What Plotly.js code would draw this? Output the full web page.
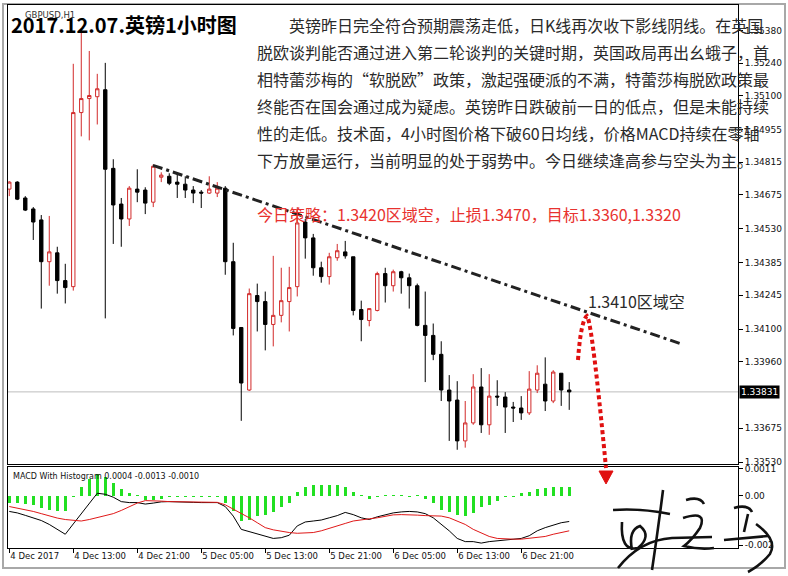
<!DOCTYPE html>
<html><head><meta charset="utf-8">
<script src="https://cdn.plot.ly/plotly-3.0.1.min.js"></script>
<style>html,body{margin:0;padding:0;background:#fff;}#chart{width:788px;height:576px;}</style>
</head><body><div id="chart"></div>
<script>
// ---- hourly bars (GBPUSD H1), first bar 4 Dec 05:00 ----
const startHour = Date.UTC(2017, 11, 4, 5);
const barCount = 71;
const times = [];
for (let i = 0; i < barCount; i++) {
  const d = new Date(startHour + i * 3600000);
  times.push(d.toISOString().slice(0, 16).replace('T', ' '));
}

const openP = [1.34700,1.34730,1.34662,1.34615,1.34568,1.34389,1.34427,1.34308,1.34282,1.35028,
1.35088,1.35096,1.35126,1.34789,1.34636,1.34572,1.34700,1.34696,1.34644,1.34751,
1.34755,1.34730,1.34721,1.34696,1.34687,1.34683,1.34683,1.34704,1.34389,1.34107,
1.33839,1.34244,1.34218,1.34120,1.34159,1.34218,1.34282,1.34559,1.34491,1.34363,
1.34325,1.34406,1.34431,1.34410,1.34184,1.34137,1.34180,1.34338,1.34286,1.34346,
1.34320,1.34286,1.34116,1.34073,1.33992,1.33839,1.33796,1.33621,1.33698,1.33852,
1.33690,1.33813,1.33809,1.33766,1.33762,1.33741,1.33839,1.33864,1.33792,1.33911,1.33839];
const highP = [1.34734,1.34734,1.34670,1.34623,1.34589,1.34585,1.34453,1.34380,1.35237,1.35382,
1.35292,1.35194,1.35241,1.34828,1.34662,1.34713,1.34785,1.34708,1.34806,1.34772,
1.34768,1.34764,1.34755,1.34713,1.34696,1.34755,1.34730,1.34713,1.34470,1.34107,
1.34274,1.34295,1.34261,1.34414,1.34363,1.34367,1.34623,1.34572,1.34508,1.34389,
1.34427,1.34465,1.34478,1.34410,1.34222,1.34188,1.34346,1.34363,1.34355,1.34350,
1.34338,1.34295,1.34261,1.34124,1.34048,1.33903,1.33877,1.33792,1.33907,1.33933,
1.33907,1.33881,1.33830,1.33788,1.33813,1.33920,1.33945,1.33979,1.33924,1.33911,1.33873];
const lowP = [1.34670,1.34653,1.34606,1.34482,1.34188,1.34286,1.34252,1.34210,1.34265,1.34926,
1.34909,1.34977,1.34146,1.34465,1.34453,1.34542,1.34644,1.34593,1.34623,1.34730,
1.34717,1.34662,1.34662,1.34640,1.34619,1.34679,1.34666,1.34333,1.34073,1.33707,
1.33835,1.34090,1.34009,1.34026,1.34129,1.34090,1.34240,1.34402,1.34329,1.34299,
1.34291,1.34393,1.34402,1.34159,1.34048,1.34112,1.34176,1.34214,1.34261,1.34252,
1.34188,1.34112,1.33873,1.33967,1.33792,1.33621,1.33583,1.33592,1.33690,1.33655,
1.33647,1.33771,1.33655,1.33702,1.33711,1.33732,1.33826,1.33749,1.33783,1.33771,1.33754];
const closeP = [1.34730,1.34657,1.34610,1.34559,1.34389,1.34431,1.34308,1.34278,1.35028,1.35088,
1.35101,1.35130,1.34785,1.34632,1.34572,1.34704,1.34687,1.34640,1.34798,1.34760,
1.34725,1.34721,1.34696,1.34683,1.34683,1.34700,1.34704,1.34389,1.34103,1.33869,
1.34252,1.34218,1.34120,1.34159,1.34222,1.34278,1.34555,1.34491,1.34363,1.34325,
1.34410,1.34436,1.34414,1.34180,1.34141,1.34188,1.34338,1.34286,1.34346,1.34320,
1.34286,1.34116,1.34073,1.33992,1.33839,1.33792,1.33621,1.33698,1.33852,1.33690,
1.33813,1.33809,1.33766,1.33762,1.33741,1.33843,1.33911,1.33792,1.33916,1.33839,1.33831];

// ---- MACD panel ----
const macdHist = [-0.00027,-0.00029,-0.00032,-0.00036,-0.00049,-0.00056,-0.00063,-0.00063,-0.00003,0.00037,
0.00070,0.00090,0.00077,0.00051,0.00027,0.00011,0.00003,-0.00016,-0.00016,-0.00013,
-0.00004,-0.00004,-0.00004,-0.00004,-0.00004,-0.00004,-0.00004,-0.00027,-0.00063,-0.00103,
-0.00096,-0.00083,-0.00076,-0.00067,-0.00045,-0.00027,0.00017,0.00037,0.00044,0.00044,
0.00044,0.00044,0.00037,0.00017,0.00004,-0.00013,-0.00004,0.00004,0.00004,0.00004,
-0.00004,0.00004,-0.00013,-0.00027,-0.00056,-0.00067,-0.00076,-0.00082,-0.00069,-0.00043,
-0.00036,-0.00019,-0.00004,-0.00004,0.00011,0.00017,0.00027,0.00031,0.00037,0.00037,0.00037];
const macdMain = [-0.00063,-0.00069,-0.00079,-0.00089,-0.00100,-0.00116,-0.00136,-0.00156,-0.00114,-0.00073,
-0.00032,0.00011,0.00007,-0.00005,-0.00023,-0.00027,-0.00027,-0.00033,-0.00029,-0.00024,
-0.00023,-0.00023,-0.00025,-0.00026,-0.00027,-0.00027,-0.00027,-0.00043,-0.00082,-0.00136,
-0.00146,-0.00156,-0.00165,-0.00173,-0.00170,-0.00160,-0.00122,-0.00106,-0.00102,-0.00098,
-0.00089,-0.00080,-0.00067,-0.00076,-0.00089,-0.00096,-0.00085,-0.00077,-0.00069,-0.00065,
-0.00063,-0.00065,-0.00072,-0.00089,-0.00116,-0.00142,-0.00173,-0.00186,-0.00186,-0.00192,
-0.00186,-0.00182,-0.00180,-0.00176,-0.00173,-0.00162,-0.00142,-0.00129,-0.00120,-0.00109,-0.00104];
const macdSignal = [-0.00043,-0.00049,-0.00056,-0.00063,-0.00072,-0.00082,-0.00090,-0.00096,-0.00100,-0.00102,
-0.00096,-0.00089,-0.00080,-0.00072,-0.00059,-0.00043,-0.00029,-0.00019,-0.00019,-0.00021,
-0.00023,-0.00024,-0.00024,-0.00024,-0.00026,-0.00026,-0.00026,-0.00036,-0.00053,-0.00069,
-0.00089,-0.00109,-0.00129,-0.00138,-0.00144,-0.00149,-0.00152,-0.00152,-0.00149,-0.00142,
-0.00133,-0.00122,-0.00112,-0.00102,-0.00096,-0.00093,-0.00089,-0.00082,-0.00077,-0.00076,
-0.00076,-0.00078,-0.00080,-0.00080,-0.00082,-0.00089,-0.00102,-0.00116,-0.00136,-0.00152,
-0.00165,-0.00173,-0.00176,-0.00176,-0.00176,-0.00173,-0.00169,-0.00165,-0.00156,-0.00149,-0.00142];

// ---- axis labels ----
const timeTickBars = [0, 8, 16, 24, 32, 40, 48, 56, 64];
const timeTickText = ['4 Dec 2017','4 Dec 13:00','4 Dec 21:00','5 Dec 05:00','5 Dec 13:00','5 Dec 21:00','6 Dec 05:00','6 Dec 13:00','6 Dec 21:00'];
const priceTicks = [1.35380,1.35240,1.35100,1.34955,1.34815,1.34675,1.34530,1.34385,1.34245,1.34100,1.33960,1.33675,1.33530];
const lastPrice = 1.33831;
const macdTicks = [0.0011, 0, -0.002];
const macdTickText = ['0.0011', '0.00', '-0.002'];

// ---- texts ----
const chartTitle = '2017.12.07.英镑1小时图';
const symbolLabel = 'GBPUSD,H1';
const paragraph = [
  '英镑昨日完全符合预期震荡走低，日K线再次收下影线阴线。在英国',
  '脱欧谈判能否通过进入第二轮谈判的关键时期，英国政局再出幺蛾子，首',
  '相特蕾莎梅的“软脱欧”政策，激起强硬派的不满，特蕾莎梅脱欧政策最',
  '终能否在国会通过成为疑虑。英镑昨日跌破前一日的低点，但是未能持续',
  '性的走低。技术面，4小时图价格下破60日均线，价格MACD持续在零轴',
  '下方放量运行，当前明显的处于弱势中。今日继续逢高参与空头为主。'
];
const strategyText = '今日策略：1.3420区域空，止损1.3470，目标1.3360,1.3320';
const zoneText = '1.3410区域空';
const macdLabel = 'MACD With Histogram 0.0004 -0.0013 -0.0010';

// trend line anchors (bar, price)
const trendStart = [17.96, 1.34802];
const trendEnd = [83.8, 1.34039];

// ---- pixel helpers for decorations ----
const PL = 8, PR = 738, PT = 5, PB = 548;
const px = x => (x - PL) / (PR - PL);
const py = y => (PB - y) / (PB - PT);
const P = (x, y) => px(x).toFixed(4) + ',' + py(y).toFixed(4);

const CJK = 'Noto Sans CJK SC, Noto Sans, sans-serif';
const MT = 'DejaVu Sans, sans-serif';

const traces = [
  {
    type: 'candlestick', x: times, open: openP, high: highP, low: lowP, close: closeP,
    xaxis: 'x', yaxis: 'y', whiskerwidth: 0, hoverinfo: 'skip',
    increasing: {line: {color: '#d22a2a', width: 1}, fillcolor: '#ffffff'},
    decreasing: {line: {color: '#000000', width: 1}, fillcolor: '#000000'}
  },
  {
    type: 'bar', x: times, y: macdHist, xaxis: 'x2', yaxis: 'y2', width: 0.42,
    marker: {color: '#22e022', line: {width: 0}}, hoverinfo: 'skip'
  },
  {
    type: 'scatter', mode: 'lines', x: times, y: macdMain, xaxis: 'x2', yaxis: 'y2',
    line: {color: '#000000', width: 1}, hoverinfo: 'skip'
  },
  {
    type: 'scatter', mode: 'lines', x: times, y: macdSignal, xaxis: 'x2', yaxis: 'y2',
    line: {color: '#e01818', width: 1}, hoverinfo: 'skip'
  }
];

const annotations = [];
annotations.push({xref:'paper', yref:'paper', x: px(23), y: py(15), xanchor:'left', yanchor:'middle',
  text: symbolLabel, showarrow:false, font:{family: MT, size: 8.5, color:'#333'}});
annotations.push({xref:'paper', yref:'paper', x: px(9), y: py(24), xanchor:'left', yanchor:'middle',
  text: '<b>' + chartTitle + '</b>', showarrow:false, font:{family: CJK, size: 20, color:'#000'}});
paragraph.forEach((line, i) => {
  annotations.push({xref:'paper', yref:'paper', x: px(i === 0 ? 287 : 255), y: py(25 + 27 * i),
    xanchor:'left', yanchor:'middle', text: line, showarrow:false,
    font:{family: CJK, size: 16, color:'#2a2a2a'}});
});
annotations.push({xref:'paper', yref:'paper', x: px(255), y: py(214), xanchor:'left', yanchor:'middle',
  text: strategyText, showarrow:false, font:{family: CJK, size: 16, color:'#e8322f'}});
annotations.push({xref:'paper', yref:'paper', x: px(586), y: py(301), xanchor:'left', yanchor:'middle',
  text: zoneText, showarrow:false, font:{family: CJK, size: 16, color:'#2a2a2a'}});
annotations.push({xref:'paper', yref:'paper', x: px(11), y: py(476), xanchor:'left', yanchor:'middle',
  text: macdLabel, showarrow:false, font:{family: MT, size: 8, color:'#111'}});
annotations.push({xref:'paper', yref:'y', x: 1, y: lastPrice, xanchor:'left', yanchor:'middle', xshift: 1,
  text: lastPrice.toFixed(5), showarrow:false, bgcolor:'#000', borderpad: 1,
  font:{family: MT, size: 9, color:'#fff'}});

const sig = [
  'M' + P(613,510) + ' Q' + P(640,508) + ' ' + P(670,514),
  'M' + P(663,490) + ' Q' + P(658,530) + ' ' + P(652,570),
  'M' + P(618,568) + ' Q' + P(640,540) + ' ' + P(672,538) + ' L' + P(712,537),
  'M' + P(622,522) + ' Q' + P(620,552) + ' ' + P(638,548) + ' Q' + P(652,536) + ' ' + P(640,526) + ' Q' + P(628,530) + ' ' + P(632,550),
  'M' + P(686,500) + ' Q' + P(700,496) + ' ' + P(704,504),
  'M' + P(683,518) + ' Q' + P(708,510) + ' ' + P(700,528) + ' Q' + P(692,540) + ' ' + P(684,546) + ' Q' + P(700,550) + ' ' + P(714,548),
  'M' + P(734,508) + ' Q' + P(748,504) + ' ' + P(752,512),
  'M' + P(748,514) + ' L' + P(744,532),
  'M' + P(724,540) + ' L' + P(768,536),
  'M' + P(756,524) + ' Q' + P(778,540) + ' ' + P(770,554) + ' Q' + P(760,566) + ' ' + P(748,572)
];

const shapes = [
  // window frame
  {type:'rect', xref:'paper', yref:'paper', x0: px(3), x1: px(785), y0: py(568), y1: py(4),
   line:{color:'#a8a8a8', width:2}, layer:'below'},
  // last price line
  {type:'line', xref:'paper', yref:'y', x0: 0, x1: 1, y0: lastPrice, y1: lastPrice,
   line:{color:'#bdbdbd', width:1}, layer:'below'},
  // trend line
  {type:'line', xref:'x', yref:'y', x0: trendStart[0], y0: trendStart[1], x1: trendEnd[0], y1: trendEnd[1],
   line:{color:'#222', width:3, dash:'10px,4px,3px,4px'}, layer:'above'},
  // red dotted arrow
  {type:'path', xref:'paper', yref:'paper',
   path: 'M' + P(578,360) + ' Q' + P(581,320) + ' ' + P(587,316) + ' Q' + P(592,322) + ' ' + P(606,468),
   line:{color:'#e01010', width:4, dash:'4px,3px'}, layer:'above'},
  {type:'path', xref:'paper', yref:'paper',
   path: 'M' + P(599,471) + ' L' + P(613,471) + ' L' + P(606,484) + ' Z',
   fillcolor:'#e01010', line:{color:'#e01010', width:1}, layer:'above'}
];
sig.forEach(p => shapes.push({type:'path', xref:'paper', yref:'paper', path: p,
  line:{color:'#111', width:2.6}, layer:'above'}));

const layout = {
  width: 788, height: 576,
  margin: {l: PL, r: 788 - PR, t: PT, b: 576 - PB, pad: 0},
  paper_bgcolor: '#ffffff', plot_bgcolor: '#ffffff',
  showlegend: false, boxgap: 0.4, bargap: 0,
  font: {family: MT, size: 9, color: '#111'},
  xaxis: {type:'category', range:[-0.16, 91.1], anchor:'y', domain:[0,1],
    showline:true, mirror:true, linecolor:'#000', linewidth:1, ticks:'', showticklabels:false,
    showgrid:false, zeroline:false, rangeslider:{visible:false}, fixedrange:true},
  xaxis2: {type:'category', matches:'x', anchor:'y2', domain:[0,1],
    showline:true, mirror:true, linecolor:'#000', linewidth:1,
    ticks:'outside', ticklen:4, tickcolor:'#000',
    tickvals: timeTickBars.map(i => times[i]), ticktext: timeTickText,
    ticklabelposition:'outside right', tickfont:{family: MT, size: 8.5, color:'#111'},
    showgrid:false, zeroline:false, fixedrange:true},
  yaxis: {domain:[(PB - 464) / (PB - PT), 1], side:'right', anchor:'x', range:[1.33522, 1.35489],
    tickvals: priceTicks, ticktext: priceTicks.map(v => v.toFixed(5)),
    ticks:'outside', ticklen:4, tickcolor:'#000', tickfont:{family: MT, size: 9, color:'#111'},
    showline:true, mirror:true, linecolor:'#000', linewidth:1,
    showgrid:false, zeroline:false, fixedrange:true},
  yaxis2: {domain:[0, (PB - 467) / (PB - PT)], side:'right', anchor:'x2', range:[-0.00212, 0.00118],
    tickvals: macdTicks, ticktext: macdTickText,
    ticks:'outside', ticklen:4, tickcolor:'#000', tickfont:{family: MT, size: 9, color:'#111'},
    showline:true, mirror:true, linecolor:'#000', linewidth:1,
    showgrid:false, zeroline:false, fixedrange:true},
  annotations: annotations,
  shapes: shapes
};

Plotly.newPlot('chart', traces, layout, {displayModeBar:false, staticPlot:true});
</script>
</body></html>
